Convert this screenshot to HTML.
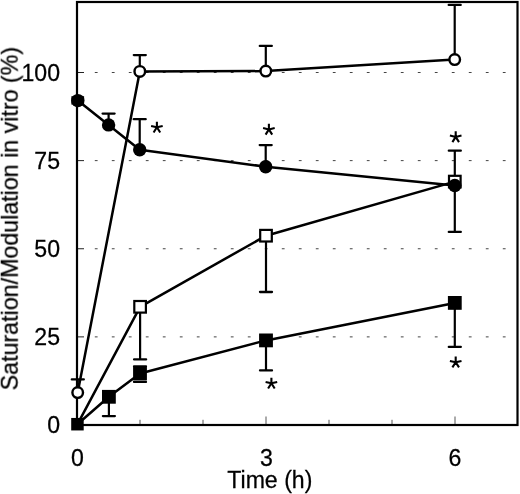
<!DOCTYPE html>
<html><head><meta charset="utf-8"><title>Chart</title>
<style>
html,body{margin:0;padding:0;background:#fff;}
body{width:520px;height:494px;overflow:hidden;font-family:"Liberation Sans",sans-serif;}
svg{display:block}
</style></head><body>
<svg width="520" height="494" viewBox="0 0 520 494">
<defs><filter id="soft" x="0" y="0" width="520" height="494" filterUnits="userSpaceOnUse"><feGaussianBlur stdDeviation="0.35"/></filter></defs>
<g filter="url(#soft)">
<rect x="0" y="0" width="520" height="494" fill="#fff"/>
<line x1="94.80" y1="336.88" x2="515.50" y2="336.88" stroke="#444" stroke-width="1" stroke-dasharray="2.8 14.2"/>
<line x1="77.00" y1="336.88" x2="84.00" y2="336.88" stroke="#222" stroke-width="1"/>
<line x1="94.80" y1="248.75" x2="515.50" y2="248.75" stroke="#444" stroke-width="1" stroke-dasharray="2.8 14.2"/>
<line x1="77.00" y1="248.75" x2="84.00" y2="248.75" stroke="#222" stroke-width="1"/>
<line x1="94.80" y1="160.62" x2="515.50" y2="160.62" stroke="#444" stroke-width="1" stroke-dasharray="2.8 14.2"/>
<line x1="77.00" y1="160.62" x2="84.00" y2="160.62" stroke="#222" stroke-width="1"/>
<line x1="94.80" y1="72.50" x2="515.50" y2="72.50" stroke="#444" stroke-width="1" stroke-dasharray="2.8 14.2"/>
<line x1="77.00" y1="72.50" x2="84.00" y2="72.50" stroke="#222" stroke-width="1"/>
<line x1="140.00" y1="425.00" x2="140.00" y2="419.80" stroke="#444" stroke-width="0.9"/>
<line x1="203.00" y1="425.00" x2="203.00" y2="419.80" stroke="#444" stroke-width="0.9"/>
<line x1="266.00" y1="425.00" x2="266.00" y2="416.50" stroke="#444" stroke-width="0.9"/>
<line x1="329.00" y1="425.00" x2="329.00" y2="419.80" stroke="#444" stroke-width="0.9"/>
<line x1="392.00" y1="425.00" x2="392.00" y2="419.80" stroke="#444" stroke-width="0.9"/>
<line x1="455.00" y1="425.00" x2="455.00" y2="416.50" stroke="#444" stroke-width="0.9"/>
<rect x="77.0" y="2.0" width="440.5" height="423.0" fill="none" stroke="#000" stroke-width="2.2"/>
<polyline fill="none" stroke="#000" stroke-width="2.50" stroke-linejoin="round" points="77.7,392.6 139.8,71.4 265.8,71.1 454.7,59.6"/>
<polyline fill="none" stroke="#000" stroke-width="2.50" stroke-linejoin="round" points="77.8,100.6 108.6,124.9 139.7,149.8 265.7,166.7 454.8,185.5"/>
<polyline fill="none" stroke="#000" stroke-width="2.50" stroke-linejoin="round" points="77.4,424.3 140.1,306.8 266.0,235.7 454.8,181.6"/>
<polyline fill="none" stroke="#000" stroke-width="2.50" stroke-linejoin="round" points="77.4,424.3 108.9,396.8 140.0,373.5 266.0,340.4 454.8,302.9"/>
<line x1="77.8" y1="392.6" x2="77.8" y2="379.4" stroke="#000" stroke-width="2.2"/>
<line x1="71.8" y1="379.4" x2="83.8" y2="379.4" stroke="#000" stroke-width="2.3" stroke-linecap="round"/>
<line x1="139.8" y1="71.4" x2="139.8" y2="55.1" stroke="#000" stroke-width="2.2"/>
<line x1="133.8" y1="55.1" x2="145.8" y2="55.1" stroke="#000" stroke-width="2.3" stroke-linecap="round"/>
<line x1="265.8" y1="71.1" x2="265.8" y2="45.9" stroke="#000" stroke-width="2.2"/>
<line x1="259.8" y1="45.9" x2="271.8" y2="45.9" stroke="#000" stroke-width="2.3" stroke-linecap="round"/>
<line x1="454.7" y1="59.6" x2="454.7" y2="4.9" stroke="#000" stroke-width="2.2"/>
<line x1="448.7" y1="4.9" x2="460.7" y2="4.9" stroke="#000" stroke-width="2.3" stroke-linecap="round"/>
<rect x="71.4" y="96.2" width="12.7" height="8.4" fill="#000"/>
<line x1="108.6" y1="124.9" x2="108.6" y2="113.6" stroke="#000" stroke-width="2.2"/>
<line x1="102.6" y1="113.6" x2="114.6" y2="113.6" stroke="#000" stroke-width="2.3" stroke-linecap="round"/>
<line x1="139.7" y1="149.8" x2="139.7" y2="119.2" stroke="#000" stroke-width="2.2"/>
<line x1="133.7" y1="119.2" x2="145.7" y2="119.2" stroke="#000" stroke-width="2.3" stroke-linecap="round"/>
<line x1="265.7" y1="166.7" x2="265.7" y2="145.1" stroke="#000" stroke-width="2.2"/>
<line x1="259.7" y1="145.1" x2="271.7" y2="145.1" stroke="#000" stroke-width="2.3" stroke-linecap="round"/>
<line x1="454.8" y1="185.0" x2="454.8" y2="150.7" stroke="#000" stroke-width="2.2"/>
<line x1="448.8" y1="150.7" x2="460.8" y2="150.7" stroke="#000" stroke-width="2.3" stroke-linecap="round"/>
<line x1="454.8" y1="185.0" x2="454.8" y2="231.9" stroke="#000" stroke-width="2.2"/>
<line x1="448.8" y1="231.9" x2="460.8" y2="231.9" stroke="#000" stroke-width="2.3" stroke-linecap="round"/>
<line x1="140.1" y1="306.8" x2="140.1" y2="359.4" stroke="#000" stroke-width="2.2"/>
<line x1="134.1" y1="359.4" x2="146.1" y2="359.4" stroke="#000" stroke-width="2.3" stroke-linecap="round"/>
<line x1="266.0" y1="235.7" x2="266.0" y2="292.0" stroke="#000" stroke-width="2.2"/>
<line x1="260.0" y1="292.0" x2="272.0" y2="292.0" stroke="#000" stroke-width="2.3" stroke-linecap="round"/>
<line x1="108.9" y1="396.8" x2="108.9" y2="416.1" stroke="#000" stroke-width="2.2"/>
<line x1="102.9" y1="416.1" x2="114.9" y2="416.1" stroke="#000" stroke-width="2.3" stroke-linecap="round"/>
<line x1="134.0" y1="366.3" x2="146.0" y2="366.3" stroke="#000" stroke-width="2.3" stroke-linecap="round"/>
<line x1="134.0" y1="381.9" x2="146.0" y2="381.9" stroke="#000" stroke-width="2.3" stroke-linecap="round"/>
<line x1="266.0" y1="340.4" x2="266.0" y2="370.4" stroke="#000" stroke-width="2.2"/>
<line x1="260.0" y1="370.4" x2="272.0" y2="370.4" stroke="#000" stroke-width="2.3" stroke-linecap="round"/>
<line x1="454.8" y1="302.9" x2="454.8" y2="346.9" stroke="#000" stroke-width="2.2"/>
<line x1="448.8" y1="346.9" x2="460.8" y2="346.9" stroke="#000" stroke-width="2.3" stroke-linecap="round"/>
<rect x="134.30" y="301.00" width="11.6" height="11.6" fill="#fff" stroke="#000" stroke-width="2.2"/>
<rect x="260.20" y="229.90" width="11.6" height="11.6" fill="#fff" stroke="#000" stroke-width="2.2"/>
<rect x="449.00" y="175.80" width="11.6" height="11.6" fill="#fff" stroke="#000" stroke-width="2.2"/>
<rect x="71.20" y="417.95" width="12.5" height="12.5" fill="#000"/>
<rect x="102.00" y="389.90" width="13.8" height="13.8" fill="#000"/>
<rect x="133.10" y="366.60" width="13.8" height="13.8" fill="#000"/>
<rect x="259.10" y="333.50" width="13.8" height="13.8" fill="#000"/>
<rect x="447.90" y="296.00" width="13.8" height="13.8" fill="#000"/>
<circle cx="77.80" cy="100.60" r="6.7" fill="#000"/>
<circle cx="108.60" cy="124.90" r="6.7" fill="#000"/>
<circle cx="139.70" cy="149.80" r="6.7" fill="#000"/>
<circle cx="265.70" cy="166.70" r="6.7" fill="#000"/>
<circle cx="454.80" cy="185.50" r="6.7" fill="#000"/>
<circle cx="77.70" cy="392.60" r="5.3" fill="#fff" stroke="#000" stroke-width="2.4"/>
<circle cx="139.80" cy="71.40" r="5.3" fill="#fff" stroke="#000" stroke-width="2.4"/>
<circle cx="265.80" cy="71.10" r="5.3" fill="#fff" stroke="#000" stroke-width="2.4"/>
<circle cx="454.70" cy="59.60" r="5.3" fill="#fff" stroke="#000" stroke-width="2.4"/>
<path d="M156.9,127.3L156.9,121.7 M156.9,127.3L151.1,126.0 M156.9,127.3L162.7,126.0 M156.9,127.3L153.6,132.5 M156.9,127.3L160.2,132.5" stroke="#000" stroke-width="2.1" fill="none"/>
<path d="M268.9,129.4L268.9,123.8 M268.9,129.4L263.1,128.1 M268.9,129.4L274.7,128.1 M268.9,129.4L265.6,134.6 M268.9,129.4L272.2,134.6" stroke="#000" stroke-width="2.1" fill="none"/>
<path d="M455.7,136.9L455.7,131.3 M455.7,136.9L449.9,135.6 M455.7,136.9L461.5,135.6 M455.7,136.9L452.4,142.1 M455.7,136.9L459.0,142.1" stroke="#000" stroke-width="2.1" fill="none"/>
<path d="M271.4,383.3L271.4,377.7 M271.4,383.3L265.6,382.0 M271.4,383.3L277.2,382.0 M271.4,383.3L268.1,388.5 M271.4,383.3L274.7,388.5" stroke="#000" stroke-width="2.1" fill="none"/>
<path d="M455.7,362.2L455.7,356.6 M455.7,362.2L449.9,360.9 M455.7,362.2L461.5,360.9 M455.7,362.2L452.4,367.4 M455.7,362.2L459.0,367.4" stroke="#000" stroke-width="2.1" fill="none"/>
<text transform="translate(60.00,433.10) scale(1,1.03)" text-anchor="end" style="font-family:'Liberation Sans',sans-serif;font-size:23.1px;fill:#000;stroke:#000;stroke-width:0.25px">0</text>
<text transform="translate(60.00,344.98) scale(1,1.03)" text-anchor="end" style="font-family:'Liberation Sans',sans-serif;font-size:23.1px;fill:#000;stroke:#000;stroke-width:0.25px">25</text>
<text transform="translate(60.00,256.85) scale(1,1.03)" text-anchor="end" style="font-family:'Liberation Sans',sans-serif;font-size:23.1px;fill:#000;stroke:#000;stroke-width:0.25px">50</text>
<text transform="translate(60.00,168.72) scale(1,1.03)" text-anchor="end" style="font-family:'Liberation Sans',sans-serif;font-size:23.1px;fill:#000;stroke:#000;stroke-width:0.25px">75</text>
<text transform="translate(60.00,80.60) scale(1,1.03)" text-anchor="end" style="font-family:'Liberation Sans',sans-serif;font-size:23.1px;fill:#000;stroke:#000;stroke-width:0.25px">100</text>
<text transform="translate(77.50,465.50) scale(1,1.03)" text-anchor="middle" style="font-family:'Liberation Sans',sans-serif;font-size:23.1px;fill:#000;stroke:#000;stroke-width:0.25px">0</text>
<text transform="translate(266.50,465.50) scale(1,1.03)" text-anchor="middle" style="font-family:'Liberation Sans',sans-serif;font-size:23.1px;fill:#000;stroke:#000;stroke-width:0.25px">3</text>
<text transform="translate(454.90,465.50) scale(1,1.03)" text-anchor="middle" style="font-family:'Liberation Sans',sans-serif;font-size:23.1px;fill:#000;stroke:#000;stroke-width:0.25px">6</text>
<text transform="translate(269.80,487.70) scale(1,1.02)" text-anchor="middle" style="font-family:'Liberation Sans',sans-serif;font-size:23.1px;fill:#000;stroke:#000;stroke-width:0.25px">Time (h)</text>
<text transform="translate(17.70,218.60) rotate(-90) scale(1,1.0)" text-anchor="middle" style="font-family:'Liberation Sans',sans-serif;font-size:23.22px;fill:#000;stroke:#000;stroke-width:0.25px">Saturation/Modulation in vitro (%)</text>
</g>
</svg>
</body></html>
